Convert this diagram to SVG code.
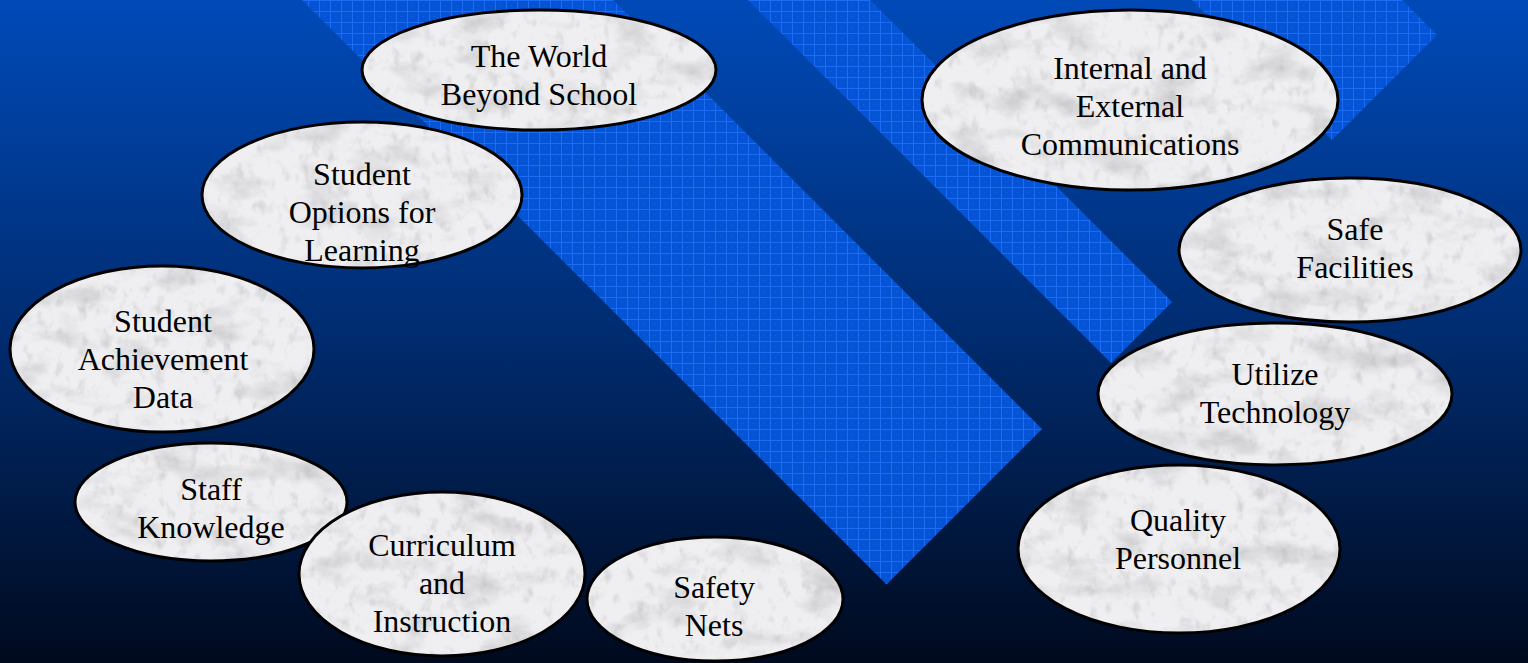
<svg xmlns="http://www.w3.org/2000/svg" width="1528" height="663" viewBox="0 0 1528 663">
  <style>
    .band { fill: url(#grid); }
    .node ellipse { fill: url(#marble); stroke: #000; stroke-width: 3; }
    .node text { font-family: "Liberation Serif", "Times New Roman", serif; font-size: 32px; fill: #000; text-anchor: middle; }
  </style>
  <defs>
    <linearGradient id="bgGrad" x1="0" y1="0" x2="0" y2="1">
      <stop offset="0" stop-color="#004ab8"/>
      <stop offset="0.5" stop-color="#002c70"/>
      <stop offset="1" stop-color="#000a1e"/>
    </linearGradient>
    <pattern id="grid" width="11" height="11" patternUnits="userSpaceOnUse">
      <rect width="11" height="11" fill="#0654d6"/>
      <rect x="0" y="0" width="11" height="1" fill="#1e6cf4"/>
      <rect x="0" y="0" width="1" height="11" fill="#1e6cf4"/>
      <rect x="5" y="5" width="1" height="1" fill="#1a64e8"/>
    </pattern>
    <filter id="mtex" x="0" y="0" width="1528" height="663" filterUnits="userSpaceOnUse">
      <feTurbulence type="fractalNoise" baseFrequency="0.02 0.035" numOctaves="5" seed="7" result="n"/>
      <feColorMatrix in="n" type="matrix" values="0 0 0 0 0.45  0 0 0 0 0.45  0 0 0 0 0.47  -1.5 0 0 0 0.78" result="v"/>
      <feTurbulence type="fractalNoise" baseFrequency="0.09 0.06" numOctaves="3" seed="21" result="n2"/>
      <feColorMatrix in="n2" type="matrix" values="0 0 0 0 0.5  0 0 0 0 0.5  0 0 0 0 0.52  -1.6 0 0 0 0.72" result="v2"/>
      <feFlood flood-color="#efeff1" result="base"/>
      <feComposite in="v" in2="base" operator="over" result="m1"/>
      <feComposite in="v2" in2="m1" operator="over"/>
    </filter>
    <pattern id="marble" width="1528" height="663" patternUnits="userSpaceOnUse">
      <rect width="1528" height="663" fill="#eeeef0" filter="url(#mtex)"/>
    </pattern>
  </defs>

  <rect id="background" x="0" y="0" width="1528" height="663" fill="url(#bgGrad)"/>
  <g id="bands">
    <polygon class="band" points="302,0 613,0 1042,429 886.5,584.5"/>
    <polygon class="band" points="748,0 870,0 1172,302 1111,363"/>
    <polygon class="band" points="1192,0 1402,0 1437,35 1332,140"/>
  </g>

  <g id="node-world" class="node">
    <ellipse cx="539" cy="70" rx="177" ry="60"/>
    <text x="539" y="67">The World</text>
    <text x="539" y="105">Beyond School</text>
  </g>
  <g id="node-options" class="node">
    <ellipse cx="362" cy="195" rx="160" ry="73"/>
    <text x="362" y="185">Student</text>
    <text x="362" y="223">Options for</text>
    <text x="362" y="261">Learning</text>
  </g>
  <g id="node-achievement" class="node">
    <ellipse cx="162" cy="349" rx="152" ry="83"/>
    <text x="163" y="332">Student</text>
    <text x="163" y="370">Achievement</text>
    <text x="163" y="408">Data</text>
  </g>
  <g id="node-staff" class="node">
    <ellipse cx="211" cy="502" rx="136" ry="59"/>
    <text x="211" y="500">Staff</text>
    <text x="211" y="538">Knowledge</text>
  </g>
  <g id="node-curriculum" class="node">
    <ellipse cx="442" cy="574" rx="143" ry="82"/>
    <text x="442" y="556">Curriculum</text>
    <text x="442" y="594">and</text>
    <text x="442" y="632">Instruction</text>
  </g>
  <g id="node-safety" class="node">
    <ellipse cx="715" cy="599" rx="128" ry="62"/>
    <text x="714" y="598">Safety</text>
    <text x="714" y="636">Nets</text>
  </g>
  <g id="node-communications" class="node">
    <ellipse cx="1130" cy="100" rx="208" ry="90"/>
    <text x="1130" y="79">Internal and</text>
    <text x="1130" y="117">External</text>
    <text x="1130" y="155">Communications</text>
  </g>
  <g id="node-facilities" class="node">
    <ellipse cx="1350" cy="250" rx="171" ry="72"/>
    <text x="1355" y="240">Safe</text>
    <text x="1355" y="278">Facilities</text>
  </g>
  <g id="node-technology" class="node">
    <ellipse cx="1275" cy="394" rx="177" ry="71"/>
    <text x="1275" y="385">Utilize</text>
    <text x="1275" y="423">Technology</text>
  </g>
  <g id="node-personnel" class="node">
    <ellipse cx="1179" cy="549" rx="161" ry="84"/>
    <text x="1178" y="531">Quality</text>
    <text x="1178" y="569">Personnel</text>
  </g>
</svg>
